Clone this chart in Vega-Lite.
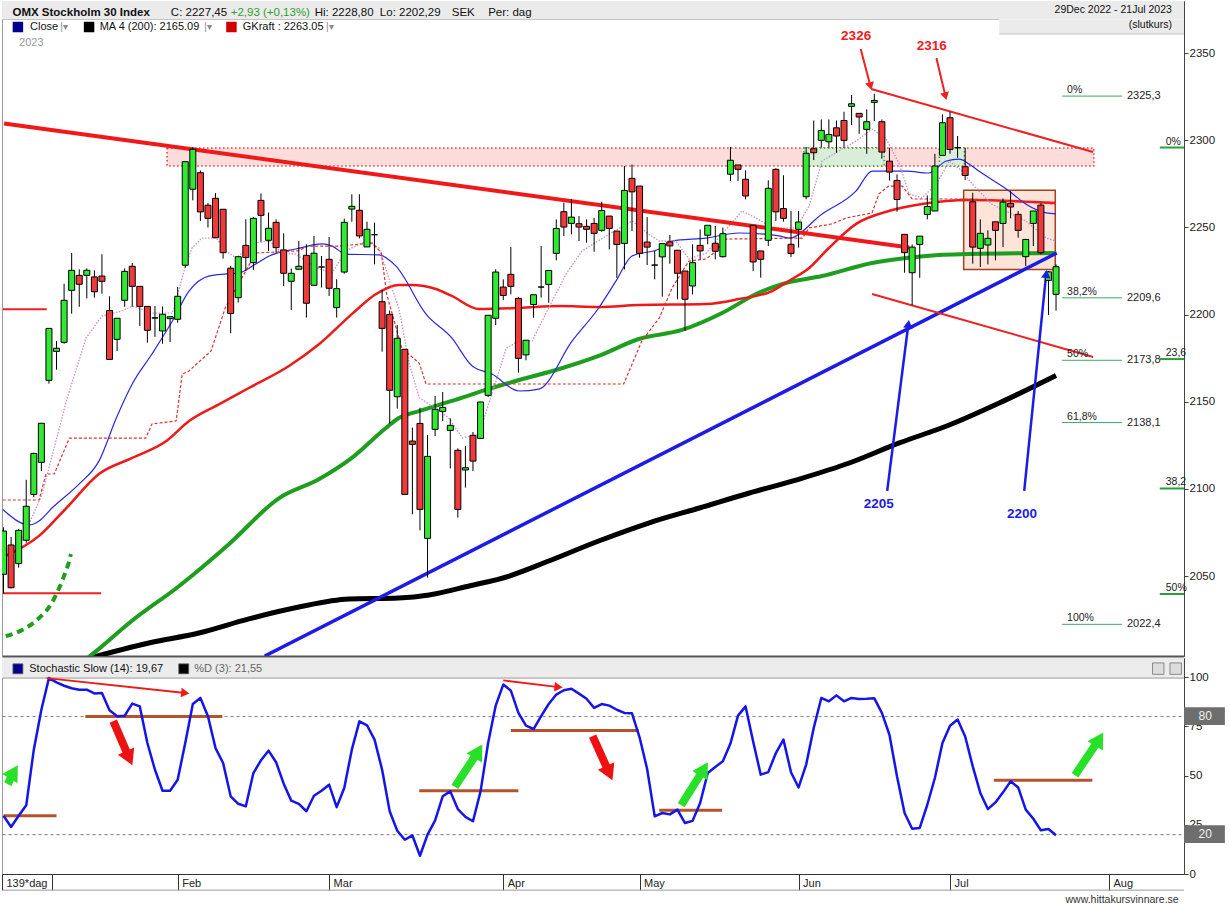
{
"$schema":"https://vega.github.io/schema/vega-lite/v6.json",
"padding":{"left":-2,"top":0,"right":0,"bottom":0},
"background":"#ffffff",
"bounds":"flush",
"spacing":2,
"config":{"font":"Liberation Sans","view":{"stroke":"#9a9a9a","strokeWidth":1}},
"resolve":{"scale":{"x":"independent","y":"independent"}},
"datasets":{
"candles":[
{"i":0,"o":2051.1,"h":2078,"l":2040,"c":2075.9},
{"i":1,"o":2067.9,"h":2072.5,"l":2043,"c":2043.4},
{"i":2,"o":2057.2,"h":2077,"l":2054.9,"c":2076.3},
{"i":3,"o":2070.6,"h":2105.3,"l":2069.2,"c":2090.1},
{"i":4,"o":2096.9,"h":2120.8,"l":2095.4,"c":2120.4},
{"i":5,"o":2115.3,"h":2137.7,"l":2110.3,"c":2137.7},
{"i":6,"o":2162.3,"h":2192.1,"l":2160.4,"c":2192.1},
{"i":7,"o":2178.9,"h":2184.9,"l":2168.4,"c":2180.7},
{"i":8,"o":2184.1,"h":2217.7,"l":2183.3,"c":2208.2},
{"i":9,"o":2213.9,"h":2235.3,"l":2200.5,"c":2225.4},
{"i":10,"o":2222.5,"h":2226,"l":2204.5,"c":2217.4},
{"i":11,"o":2222.5,"h":2226.5,"l":2209.3,"c":2225.4},
{"i":12,"o":2221.6,"h":2225.4,"l":2209.7,"c":2213.1},
{"i":13,"o":2222.1,"h":2234.6,"l":2212,"c":2219.1},
{"i":14,"o":2202.4,"h":2210.5,"l":2174.3,"c":2174.3},
{"i":15,"o":2185.8,"h":2197.9,"l":2179.1,"c":2197.9},
{"i":16,"o":2208.2,"h":2226.5,"l":2204.5,"c":2224.8},
{"i":17,"o":2227.7,"h":2229.6,"l":2204.5,"c":2216.2},
{"i":18,"o":2216.2,"h":2216.2,"l":2193.5,"c":2204.7},
{"i":19,"o":2204.7,"h":2204.7,"l":2183.9,"c":2191},
{"i":20,"o":2198,"h":2204.9,"l":2187.2,"c":2198.2},
{"i":21,"o":2190.6,"h":2204.7,"l":2183.3,"c":2200.2},
{"i":22,"o":2197.7,"h":2198.8,"l":2184.3,"c":2198.8},
{"i":23,"o":2197.3,"h":2215.8,"l":2195.4,"c":2210.5},
{"i":24,"o":2228.3,"h":2287.7,"l":2226.9,"c":2287.7},
{"i":25,"o":2271.9,"h":2296,"l":2265.5,"c":2294.8},
{"i":26,"o":2281.4,"h":2282.7,"l":2253.7,"c":2258.9},
{"i":27,"o":2262.7,"h":2264,"l":2249.9,"c":2255.2},
{"i":28,"o":2266.7,"h":2269.7,"l":2244.1,"c":2244.1},
{"i":29,"o":2260.4,"h":2260.4,"l":2232.1,"c":2235.5},
{"i":30,"o":2226.6,"h":2227.9,"l":2189.3,"c":2200.6},
{"i":31,"o":2209.7,"h":2233.2,"l":2206.9,"c":2233.2},
{"i":32,"o":2239.7,"h":2254.7,"l":2225,"c":2232.7},
{"i":33,"o":2229.8,"h":2256,"l":2225.6,"c":2255.2},
{"i":34,"o":2265.5,"h":2269.4,"l":2241.8,"c":2256.9},
{"i":35,"o":2242.6,"h":2258.5,"l":2236.5,"c":2249.5},
{"i":36,"o":2252.9,"h":2254.6,"l":2235.5,"c":2238.4},
{"i":37,"o":2237.1,"h":2246.6,"l":2216.4,"c":2223.7},
{"i":38,"o":2219.1,"h":2226.4,"l":2202.7,"c":2223.7},
{"i":39,"o":2226,"h":2242.2,"l":2226,"c":2227.7},
{"i":40,"o":2234,"h":2240.3,"l":2198.3,"c":2206.5},
{"i":41,"o":2216.8,"h":2245.1,"l":2216.8,"c":2235.2},
{"i":42,"o":2227.3,"h":2233.6,"l":2215.5,"c":2227.3},
{"i":43,"o":2231.7,"h":2244.5,"l":2210.7,"c":2215.1},
{"i":44,"o":2204,"h":2220.3,"l":2198.3,"c":2214.9},
{"i":45,"o":2224.4,"h":2255,"l":2223.5,"c":2252.9},
{"i":46,"o":2260.5,"h":2269,"l":2253.3,"c":2262.1},
{"i":47,"o":2259.8,"h":2269,"l":2243.7,"c":2245.1},
{"i":48,"o":2238.8,"h":2253.3,"l":2238.8,"c":2248.9},
{"i":49,"o":2245.8,"h":2252.7,"l":2228.8,"c":2245.8},
{"i":50,"o":2207.4,"h":2214.1,"l":2178.7,"c":2192.1},
{"i":51,"o":2200.1,"h":2202.4,"l":2137.5,"c":2156.6},
{"i":52,"o":2152.9,"h":2194,"l":2146.1,"c":2186.4},
{"i":53,"o":2180.1,"h":2180.1,"l":2096.9,"c":2096.9},
{"i":54,"o":2127.5,"h":2135.2,"l":2085.5,"c":2125.6},
{"i":55,"o":2137.6,"h":2146.6,"l":2076.3,"c":2088.3},
{"i":56,"o":2071.7,"h":2131,"l":2049.2,"c":2118.7},
{"i":57,"o":2134.2,"h":2153.3,"l":2130.4,"c":2145.7},
{"i":58,"o":2144.5,"h":2155.6,"l":2139,"c":2146.8},
{"i":59,"o":2133.6,"h":2140.5,"l":2111.8,"c":2136.5},
{"i":60,"o":2122.2,"h":2123.3,"l":2083.6,"c":2088.3},
{"i":61,"o":2110.9,"h":2124.6,"l":2100.8,"c":2112.2},
{"i":62,"o":2130.8,"h":2132.7,"l":2110.3,"c":2116},
{"i":63,"o":2129,"h":2150,"l":2129,"c":2149.9},
{"i":64,"o":2153.7,"h":2199.6,"l":2152.7,"c":2199.6},
{"i":65,"o":2197.9,"h":2226,"l":2194,"c":2224.4},
{"i":66,"o":2215.8,"h":2220.2,"l":2208.4,"c":2211},
{"i":67,"o":2223.1,"h":2238.8,"l":2211.6,"c":2216.2},
{"i":68,"o":2209.3,"h":2210,"l":2166.7,"c":2174.9},
{"i":69,"o":2176.9,"h":2185.3,"l":2173.8,"c":2185.3},
{"i":70,"o":2205.8,"h":2211.4,"l":2198.2,"c":2211.4},
{"i":71,"o":2215.8,"h":2239.3,"l":2209.7,"c":2215.8},
{"i":72,"o":2217.3,"h":2225.3,"l":2206.8,"c":2225.3},
{"i":73,"o":2235.1,"h":2254.6,"l":2231.1,"c":2249.4},
{"i":74,"o":2259,"h":2264.1,"l":2245,"c":2250.2},
{"i":75,"o":2252.3,"h":2266.1,"l":2246,"c":2255.9},
{"i":76,"o":2252.1,"h":2256.5,"l":2242.2,"c":2250.2},
{"i":77,"o":2250.6,"h":2254.6,"l":2241.2,"c":2248.9},
{"i":78,"o":2252.3,"h":2255.5,"l":2236,"c":2246.6},
{"i":79,"o":2248.3,"h":2264.7,"l":2247.5,"c":2259.7},
{"i":80,"o":2256.5,"h":2256.5,"l":2237.4,"c":2249.4},
{"i":81,"o":2247.9,"h":2247.9,"l":2221.1,"c":2240.2},
{"i":82,"o":2240.8,"h":2285.2,"l":2225.9,"c":2271.2},
{"i":83,"o":2278.1,"h":2286.1,"l":2247.9,"c":2270.4},
{"i":84,"o":2273.7,"h":2273.7,"l":2232.6,"c":2235.1},
{"i":85,"o":2241.6,"h":2255.9,"l":2228.4,"c":2238.7},
{"i":86,"o":2228.4,"h":2236.5,"l":2220.2,"c":2228.4},
{"i":87,"o":2233.1,"h":2240.7,"l":2210.3,"c":2240.7},
{"i":88,"o":2241.7,"h":2245.7,"l":2229.2,"c":2239.4},
{"i":89,"o":2236.9,"h":2236.9,"l":2208.8,"c":2223.7},
{"i":90,"o":2225,"h":2225,"l":2190.6,"c":2208.8},
{"i":91,"o":2216.4,"h":2240.3,"l":2211.6,"c":2229.8},
{"i":92,"o":2239.7,"h":2248.9,"l":2231.7,"c":2236.5},
{"i":93,"o":2245.5,"h":2251.2,"l":2240.3,"c":2251.2},
{"i":94,"o":2240.9,"h":2250.8,"l":2231.7,"c":2236.3},
{"i":95,"o":2233.2,"h":2249.9,"l":2232.7,"c":2246.4},
{"i":96,"o":2280.5,"h":2296.1,"l":2276.6,"c":2288.5},
{"i":97,"o":2285.8,"h":2285.8,"l":2276.6,"c":2283.3},
{"i":98,"o":2277.6,"h":2282.7,"l":2266.1,"c":2268},
{"i":99,"o":2251.2,"h":2251.2,"l":2225,"c":2230.2},
{"i":100,"o":2236.5,"h":2236.5,"l":2221.2,"c":2231.7},
{"i":101,"o":2242.6,"h":2277,"l":2239.4,"c":2272.4},
{"i":102,"o":2283.3,"h":2283.9,"l":2253.7,"c":2258.9},
{"i":103,"o":2260.8,"h":2279.9,"l":2253.3,"c":2255.2},
{"i":104,"o":2240.3,"h":2259.4,"l":2233.1,"c":2235},
{"i":105,"o":2248.9,"h":2259.4,"l":2238.4,"c":2253.1},
{"i":106,"o":2267.6,"h":2296.1,"l":2266.1,"c":2292.5},
{"i":107,"o":2295.1,"h":2311.3,"l":2288.6,"c":2292.8},
{"i":108,"o":2299.9,"h":2311.9,"l":2295.7,"c":2305.6},
{"i":109,"o":2299.1,"h":2311.9,"l":2295.7,"c":2303.3},
{"i":110,"o":2307.1,"h":2311.3,"l":2292.8,"c":2302.4},
{"i":111,"o":2311.3,"h":2316.3,"l":2295.7,"c":2299.9},
{"i":112,"o":2319.4,"h":2325.9,"l":2308.7,"c":2320.9},
{"i":113,"o":2315.4,"h":2315.4,"l":2303.7,"c":2313.3},
{"i":114,"o":2306.2,"h":2317.7,"l":2292.2,"c":2310.6},
{"i":115,"o":2321.7,"h":2326.6,"l":2311,"c":2322.8},
{"i":116,"o":2310.6,"h":2311.9,"l":2289.4,"c":2293.2},
{"i":117,"o":2288,"h":2295.7,"l":2276.9,"c":2281.7},
{"i":118,"o":2276.9,"h":2280.4,"l":2259,"c":2266},
{"i":119,"o":2246,"h":2246,"l":2224,"c":2235.5},
{"i":120,"o":2224,"h":2240.2,"l":2205.5,"c":2238.7},
{"i":121,"o":2240.2,"h":2245,"l":2221.1,"c":2245},
{"i":122,"o":2257.4,"h":2268.3,"l":2254.6,"c":2262},
{"i":123,"o":2259.4,"h":2292.2,"l":2259.4,"c":2285.2},
{"i":124,"o":2291.3,"h":2314.8,"l":2291.3,"c":2310},
{"i":125,"o":2312.9,"h":2316.3,"l":2292.2,"c":2294.7},
{"i":126,"o":2295.7,"h":2302.4,"l":2289.9,"c":2295.7},
{"i":127,"o":2284.8,"h":2295.7,"l":2277.1,"c":2279.8},
{"i":128,"o":2264.7,"h":2269.9,"l":2229.2,"c":2238.7},
{"i":129,"o":2238,"h":2254.6,"l":2227.3,"c":2246.6},
{"i":130,"o":2239.9,"h":2248.3,"l":2228.8,"c":2243.7},
{"i":131,"o":2253.2,"h":2253.2,"l":2231.1,"c":2248.3},
{"i":132,"o":2252.3,"h":2266.6,"l":2238.7,"c":2264.5},
{"i":133,"o":2263.8,"h":2270.8,"l":2255.2,"c":2261.7},
{"i":134,"o":2257.5,"h":2259.4,"l":2244.1,"c":2248.3},
{"i":135,"o":2233.2,"h":2243.1,"l":2227.8,"c":2243.1},
{"i":136,"o":2252.3,"h":2259.4,"l":2239.3,"c":2259.4},
{"i":137,"o":2262.8,"h":2263.8,"l":2234.5,"c":2235.5},
{"i":138,"o":2219.6,"h":2225,"l":2199.7,"c":2224.52},
{"i":139,"o":2211.6,"h":2228.8,"l":2202.29,"c":2227.45}
],
"ma200":[{"i":10,"v":2001.4},{"i":19.2,"v":2011.7},{"i":25.8,"v":2017.4},{"i":32.4,"v":2025.5},{"i":39,"v":2032.3},{"i":45.6,"v":2036.9},{"i":52.2,"v":2037.5},{"i":56.2,"v":2039.2},{"i":61.5,"v":2044.4},{"i":66.8,"v":2050.1},{"i":72,"v":2058.7},{"i":78.6,"v":2070.2},{"i":85.2,"v":2080.5},{"i":91.9,"v":2089.1},{"i":98.5,"v":2097.7},{"i":105.1,"v":2105.7},{"i":111.7,"v":2114.9},{"i":118.3,"v":2126.4},{"i":124.9,"v":2136.7},{"i":131.5,"v":2149.3},{"i":139,"v":2165.1}],
"ma50":[{"i":10.6,"v":2001.4},{"i":12.6,"v":2008.3},{"i":16.6,"v":2023.2},{"i":23.2,"v":2044.4},{"i":29.8,"v":2068.5},{"i":36.4,"v":2094.8},{"i":41.7,"v":2105.7},{"i":46,"v":2117.8},{"i":50.5,"v":2135},{"i":52.2,"v":2140.7},{"i":54.9,"v":2144.7},{"i":59.2,"v":2150.5},{"i":63.7,"v":2156.8},{"i":68.1,"v":2162.5},{"i":73.4,"v":2168.8},{"i":78.6,"v":2176.3},{"i":83.9,"v":2186},{"i":89.6,"v":2191.2},{"i":94.9,"v":2200.9},{"i":99.4,"v":2211.8},{"i":102.8,"v":2217.5},{"i":108.1,"v":2222.1},{"i":114.7,"v":2229.6},{"i":119.2,"v":2232.5},{"i":123.5,"v":2234.2},{"i":127.5,"v":2234.7},{"i":139,"v":2235.3}],
"gk":[{"i":-0.03,"v":2061},{"i":4.7,"v":2073.1},{"i":8.3,"v":2089.1},{"i":12.6,"v":2108.6},{"i":17,"v":2117.8},{"i":21.5,"v":2127.5},{"i":24.5,"v":2139},{"i":28.5,"v":2148.7},{"i":32.4,"v":2157.9},{"i":37.7,"v":2170.5},{"i":41.7,"v":2183.1},{"i":46,"v":2200.3},{"i":49.2,"v":2211.8},{"i":52.2,"v":2217},{"i":53.9,"v":2217},{"i":57.1,"v":2214.7},{"i":59.2,"v":2210.7},{"i":62.8,"v":2203.2},{"i":68.1,"v":2203.8},{"i":73.4,"v":2204.9},{"i":78.6,"v":2204.4},{"i":83.9,"v":2205.5},{"i":92.8,"v":2206.1},{"i":97.1,"v":2208.9},{"i":101.5,"v":2213.5},{"i":103.7,"v":2219.3},{"i":106.4,"v":2226.7},{"i":109,"v":2238.2},{"i":112.6,"v":2252},{"i":116.9,"v":2259.4},{"i":121.3,"v":2263.4},{"i":127.5,"v":2265.7},{"i":139,"v":2264}],
"mab":[{"i":-0.1,"v":2088.2},{"i":3.4,"v":2079.4},{"i":4.7,"v":2081.7},{"i":6.4,"v":2089.1},{"i":10,"v":2102.9},{"i":12.6,"v":2116},{"i":14.9,"v":2140.7},{"i":17,"v":2160.2},{"i":19.6,"v":2177.4},{"i":22.3,"v":2196.3},{"i":24.5,"v":2213.5},{"i":27.1,"v":2222.1},{"i":29.4,"v":2223.3},{"i":31.1,"v":2223.9},{"i":33.3,"v":2229},{"i":35.1,"v":2233.6},{"i":38.6,"v":2237.6},{"i":42.1,"v":2240.5},{"i":43.4,"v":2239.3},{"i":45.2,"v":2234.7},{"i":49.6,"v":2234.2},{"i":51.8,"v":2227.9},{"i":55.8,"v":2200.3},{"i":59.2,"v":2186.6},{"i":61.9,"v":2170.5},{"i":64.5,"v":2165.9},{"i":68.1,"v":2156.2},{"i":70.7,"v":2157.3},{"i":75.1,"v":2184.9},{"i":78.6,"v":2203.8},{"i":80.9,"v":2219.3},{"i":83,"v":2233.6},{"i":86.6,"v":2237.6},{"i":88.3,"v":2242.2},{"i":92.8,"v":2243.9},{"i":97.1,"v":2246.8},{"i":102.4,"v":2245.1},{"i":103.7,"v":2243.9},{"i":108.1,"v":2257.7},{"i":112.6,"v":2270.9},{"i":114.7,"v":2282.3},{"i":119.2,"v":2282.3},{"i":122.2,"v":2281.2},{"i":124.5,"v":2288.1},{"i":126.2,"v":2289.2},{"i":127.5,"v":2286.4},{"i":128.8,"v":2282.3},{"i":132.8,"v":2270.9},{"i":135,"v":2263.4},{"i":137.7,"v":2258.3},{"i":139,"v":2257.7}],
"map":[{"i":2.4,"v":2070.2},{"i":5.1,"v":2097.1},{"i":8.3,"v":2150.5},{"i":10.9,"v":2186.6},{"i":13,"v":2199.2},{"i":15.6,"v":2202.1},{"i":17,"v":2204.9},{"i":19.6,"v":2200.9},{"i":22.3,"v":2200.9},{"i":24.1,"v":2229},{"i":24.9,"v":2238.2},{"i":26.2,"v":2243.9},{"i":28.1,"v":2243.9},{"i":29.4,"v":2236.5},{"i":30.7,"v":2232.5},{"i":33.3,"v":2241.1},{"i":35.1,"v":2242.2},{"i":36.8,"v":2235.3},{"i":38.6,"v":2234.7},{"i":41.3,"v":2226.7},{"i":43.4,"v":2223.9},{"i":45.2,"v":2236.5},{"i":47.9,"v":2242.2},{"i":49.6,"v":2238.2},{"i":51.3,"v":2215.3},{"i":52.2,"v":2203.8},{"i":53.6,"v":2171.7},{"i":54.9,"v":2152.2},{"i":57.1,"v":2146.4},{"i":58.8,"v":2140.7},{"i":60.6,"v":2129.2},{"i":62.8,"v":2131.5},{"i":64.5,"v":2154.5},{"i":66.4,"v":2180.8},{"i":68.1,"v":2184.9},{"i":69.8,"v":2184.9},{"i":72,"v":2203.8},{"i":74.3,"v":2223.3},{"i":76.4,"v":2236.5},{"i":79.6,"v":2245.1},{"i":83,"v":2253.7},{"i":85.2,"v":2246.2},{"i":86.6,"v":2242.2},{"i":88.8,"v":2242.2},{"i":90.5,"v":2231.9},{"i":92.8,"v":2235.3},{"i":94.9,"v":2246.2},{"i":97.5,"v":2259.4},{"i":99.4,"v":2255.4},{"i":101.5,"v":2249.7},{"i":104.7,"v":2249.7},{"i":106.4,"v":2262.3},{"i":108.1,"v":2288.1},{"i":110.3,"v":2293.8},{"i":112.6,"v":2299.5},{"i":114.7,"v":2306.4},{"i":116.5,"v":2301.3},{"i":118.3,"v":2286.4},{"i":119.6,"v":2269.2},{"i":121.3,"v":2266.9},{"i":123.2,"v":2274.9},{"i":124.9,"v":2288.1},{"i":126.6,"v":2282.3},{"i":127.9,"v":2274.9},{"i":130.5,"v":2263.4},{"i":135,"v":2253.7},{"i":137.7,"v":2243.9},{"i":139,"v":2242.2}],
"stepred":[{"i":-0.1,"v":2093.7},{"i":4.7,"v":2093.7},{"i":5.6,"v":2108.6},{"i":6.7,"v":2108.6},{"i":8.7,"v":2129.2},{"i":18.8,"v":2129.2},{"i":19.6,"v":2137.3},{"i":22.8,"v":2139},{"i":23.6,"v":2165.9},{"i":24.5,"v":2167.7},{"i":27.4,"v":2179.1},{"i":29.3,"v":2204},{"i":33.3,"v":2235.3},{"i":38.8,"v":2236.5},{"i":40.3,"v":2239.3},{"i":44.3,"v":2239.3},{"i":48.7,"v":2241.1},{"i":49.9,"v":2235.3},{"i":50.6,"v":2211.8},{"i":52.6,"v":2180.8},{"i":54.9,"v":2172.2},{"i":55.8,"v":2160.2},{"i":81.9,"v":2160.2},{"i":84.3,"v":2184.9},{"i":86.6,"v":2198},{"i":88.3,"v":2215.3},{"i":90.5,"v":2230.7},{"i":92.8,"v":2231.9},{"i":94.1,"v":2236.5},{"i":95.4,"v":2243.3},{"i":105.5,"v":2243.9},{"i":106.4,"v":2249.7},{"i":109.4,"v":2252},{"i":111.3,"v":2255.4},{"i":114.7,"v":2258.3},{"i":115.6,"v":2269.2},{"i":116.9,"v":2273.7},{"i":118.7,"v":2273.7},{"i":120,"v":2266.3},{"i":127.5,"v":2266.3},{"i":139,"v":2263.4}],
"arc":[{"i":0.3,"v":2015.6},{"i":2.7,"v":2019.7},{"i":4.7,"v":2026},{"i":6.3,"v":2034.1},{"i":7.3,"v":2042.7},{"i":8.1,"v":2051.3},{"i":8.6,"v":2057.6},{"i":8.9,"v":2062.7}],
"stoch":[{"i":0,"v":29.6},{"i":1,"v":23.9},{"i":2,"v":29.6},{"i":3,"v":34.9},{"i":4,"v":63.2},{"i":5,"v":83.5},{"i":6,"v":99.6},{"i":7,"v":97.4},{"i":8,"v":95.7},{"i":9,"v":94.4},{"i":10,"v":93.7},{"i":11,"v":93.7},{"i":12,"v":91.8},{"i":13,"v":92},{"i":14,"v":83.2},{"i":15,"v":80.2},{"i":16,"v":80.5},{"i":17,"v":86.6},{"i":18,"v":85.2},{"i":19,"v":66.6},{"i":20,"v":53},{"i":21,"v":42.3},{"i":22,"v":42.3},{"i":23,"v":47.9},{"i":24,"v":66.6},{"i":25,"v":86.4},{"i":26,"v":89.5},{"i":27,"v":80.2},{"i":28,"v":64},{"i":29,"v":56.4},{"i":30,"v":39.5},{"i":31,"v":35.7},{"i":32,"v":34.4},{"i":33,"v":51.3},{"i":34,"v":57.8},{"i":35,"v":62.7},{"i":36,"v":56.8},{"i":37,"v":45.9},{"i":38,"v":37.3},{"i":39,"v":35.6},{"i":40,"v":31.9},{"i":41,"v":39.8},{"i":42,"v":42.3},{"i":43,"v":45.4},{"i":44,"v":34},{"i":45,"v":43.7},{"i":46,"v":63.2},{"i":47,"v":77.6},{"i":48,"v":75.6},{"i":49,"v":68.3},{"i":50,"v":53},{"i":51,"v":31.9},{"i":52,"v":22},{"i":53,"v":17.4},{"i":54,"v":19.6},{"i":55,"v":9.3},{"i":56,"v":20},{"i":57,"v":27.3},{"i":58,"v":39.5},{"i":59,"v":42},{"i":60,"v":33},{"i":61,"v":29},{"i":62,"v":26.8},{"i":63,"v":42},{"i":64,"v":66.6},{"i":65,"v":85.6},{"i":66,"v":96.3},{"i":67,"v":93.2},{"i":68,"v":81.9},{"i":69,"v":75.4},{"i":70,"v":73.7},{"i":71,"v":80.2},{"i":72,"v":86.4},{"i":73,"v":91.2},{"i":74,"v":93.4},{"i":75,"v":94.2},{"i":76,"v":91.7},{"i":77,"v":89.1},{"i":78,"v":84.4},{"i":79,"v":86.4},{"i":80,"v":85.6},{"i":81,"v":83.5},{"i":82,"v":81.9},{"i":83,"v":81.7},{"i":84,"v":69.5},{"i":85,"v":53.4},{"i":86,"v":29.3},{"i":87,"v":31},{"i":88,"v":30.3},{"i":89,"v":32.7},{"i":90,"v":25.9},{"i":91,"v":27},{"i":92,"v":36.1},{"i":93,"v":51.3},{"i":94,"v":54.4},{"i":95,"v":57.3},{"i":96,"v":66.3},{"i":97,"v":80.5},{"i":98,"v":85.2},{"i":99,"v":67.4},{"i":100,"v":50.5},{"i":101,"v":51.8},{"i":102,"v":61.5},{"i":103,"v":68.3},{"i":104,"v":51.7},{"i":105,"v":44},{"i":106,"v":55.6},{"i":107,"v":74.2},{"i":108,"v":89.5},{"i":109,"v":87.8},{"i":110,"v":90.8},{"i":111,"v":87.8},{"i":112,"v":89.5},{"i":113,"v":89},{"i":114,"v":89.1},{"i":115,"v":89.3},{"i":116,"v":81.9},{"i":117,"v":70.8},{"i":118,"v":49.6},{"i":119,"v":31},{"i":120,"v":23},{"i":121,"v":23.4},{"i":122,"v":35.2},{"i":123,"v":48.8},{"i":124,"v":66.6},{"i":125,"v":75.4},{"i":126,"v":78.5},{"i":127,"v":69.9},{"i":128,"v":54.7},{"i":129,"v":41.2},{"i":130,"v":33},{"i":131,"v":36.4},{"i":132,"v":41.5},{"i":133,"v":47.1},{"i":134,"v":44},{"i":135,"v":32.7},{"i":136,"v":28.1},{"i":137,"v":22.2},{"i":138,"v":22.9},{"i":139,"v":19.67}],
"fib":[{"i":139.8,"i2":147.7,"v":2325.3,"p":"0%","t":"2325,3"},{"i":139.8,"i2":147.7,"v":2209.6,"p":"38,2%","t":"2209,6"},{"i":139.8,"i2":147.7,"v":2173.8,"p":"50%","t":"2173,8"},{"i":139.8,"i2":147.7,"v":2138.1,"p":"61,8%","t":"2138,1"},{"i":139.8,"i2":147.7,"v":2022.4,"p":"100%","t":"2022,4"}],
"fibr":[{"i":152.7,"i2":155.9,"v":2295.8,"t":"0%"},{"i":152.7,"i2":155.9,"v":2174.5,"t":"23,6"},{"i":152.7,"i2":155.9,"v":2100.3,"t":"38,2"},{"i":152.7,"i2":155.9,"v":2039.8,"t":"50%"}]
},
"vconcat":[
{
"width":1182,"height":655,
"layer":[
{"data":{"values":[{"i":-0.2,"i2":155.9,"v":2379.82,"v2":2369.2},{"i":131.5,"i2":155.9,"v":2369.2,"v2":2360.9}]},
 "mark":{"type":"rect","fill":"#ebebeb","strokeWidth":0},
 "encoding":{
  "x":{"field":"i","type":"quantitative","scale":{"domain":[-0.2,155.9],"nice":false,"zero":false,"padding":0},"axis":{"orient":"bottom","domain":true,"domainColor":"#555555","domainWidth":2,"ticks":false,"labels":false,"grid":false,"title":null}},
  "x2":{"field":"i2"},
  "y":{"field":"v","type":"quantitative","scale":{"domain":[2004.24,2379.82],"nice":false,"zero":false},"axis":{"orient":"right","values":[2050,2100,2150,2200,2250,2300,2350],"format":"d","tickSize":4,"tickColor":"#444444","domainColor":"#444444","labelPadding":1,"labelFontSize":11.5,"labelColor":"#222222","grid":false,"title":null}},
  "y2":{"field":"v2"}}},
{"data":{"values":[{"i":-0.596,"i2":-0.2,"v":2004.24,"v2":2012}]},
 "mark":{"type":"rect","fill":"#ffffff","strokeWidth":0},
 "encoding":{"x":{"field":"i","type":"quantitative","scale":{"domain":[-0.2,155.9],"nice":false,"zero":false,"padding":0}},"x2":{"field":"i2"},"y":{"field":"v","type":"quantitative","scale":{"domain":[2004.24,2379.82],"nice":false,"zero":false}},"y2":{"field":"v2"}}},
{"data":{"values":[{"i":-0.13,"i2":131.5,"v":2369.2},{"i":131.5,"i2":155.9,"v":2360.9}]},
 "mark":{"type":"rule","color":"#c4c4c4","strokeWidth":1},
 "encoding":{"x":{"field":"i","type":"quantitative","scale":{"domain":[-0.2,155.9],"nice":false,"zero":false,"padding":0}},"x2":{"field":"i2"},"y":{"field":"v","type":"quantitative","scale":{"domain":[2004.24,2379.82],"nice":false,"zero":false}}}},
{"data":{"values":[{"i":21.6,"i2":144.0,"v":2295.5,"v2":2285.2}]},
 "mark":{"type":"rect","fill":"#fddcdc","stroke":"#e23a3a","strokeWidth":1.5,"strokeDash":[1.5,2.5]},
 "encoding":{"x":{"field":"i","type":"quantitative","scale":{"domain":[-0.2,155.9],"nice":false,"zero":false,"padding":0}},"x2":{"field":"i2"},"y":{"field":"v","type":"quantitative","scale":{"domain":[2004.24,2379.82],"nice":false,"zero":false}},"y2":{"field":"v2"}}},
{"data":{"values":[{"i":105.7,"i2":116.3,"v":2295.5,"v2":2285.2},{"i":123.6,"i2":126.9,"v":2295.5,"v2":2285.2}]},
 "mark":{"type":"rect","fill":"#d9eed9","stroke":"#2f9f2f","strokeWidth":1.5,"strokeDash":[1.5,2.5]},
 "encoding":{"x":{"field":"i","type":"quantitative","scale":{"domain":[-0.2,155.9],"nice":false,"zero":false,"padding":0}},"x2":{"field":"i2"},"y":{"field":"v","type":"quantitative","scale":{"domain":[2004.24,2379.82],"nice":false,"zero":false}},"y2":{"field":"v2"}}},
{"data":{"values":[{"i":126.8,"i2":138.9,"v":2271.3,"v2":2225.8}]},
 "mark":{"type":"rect","fill":"#fde3d8","stroke":"#a3401e","strokeWidth":1.5},
 "encoding":{"x":{"field":"i","type":"quantitative","scale":{"domain":[-0.2,155.9],"nice":false,"zero":false,"padding":0}},"x2":{"field":"i2"},"y":{"field":"v","type":"quantitative","scale":{"domain":[2004.24,2379.82],"nice":false,"zero":false}},"y2":{"field":"v2"}}},
{"data":{"name":"ma200"},"mark":{"type":"line","color":"#000000","strokeWidth":5,"strokeJoin":"round","interpolate":"monotone","clip":true},
 "encoding":{"x":{"field":"i","type":"quantitative","scale":{"domain":[-0.2,155.9],"nice":false,"zero":false,"padding":0}},"y":{"field":"v","type":"quantitative","scale":{"domain":[2004.24,2379.82],"nice":false,"zero":false}}}},
{"data":{"name":"ma50"},"mark":{"type":"line","color":"#1e9e1e","strokeWidth":4,"strokeJoin":"round","interpolate":"monotone","clip":true},
 "encoding":{"x":{"field":"i","type":"quantitative","scale":{"domain":[-0.2,155.9],"nice":false,"zero":false,"padding":0}},"y":{"field":"v","type":"quantitative","scale":{"domain":[2004.24,2379.82],"nice":false,"zero":false}}}},
{"data":{"name":"gk"},"mark":{"type":"line","color":"#ee1a1a","strokeWidth":2.5,"strokeJoin":"round","interpolate":"monotone","clip":true},
 "encoding":{"x":{"field":"i","type":"quantitative","scale":{"domain":[-0.2,155.9],"nice":false,"zero":false,"padding":0}},"y":{"field":"v","type":"quantitative","scale":{"domain":[2004.24,2379.82],"nice":false,"zero":false}}}},
{"data":{"name":"mab"},"mark":{"type":"line","color":"#2828e0","strokeWidth":1.2,"strokeJoin":"round","interpolate":"monotone","clip":true},
 "encoding":{"x":{"field":"i","type":"quantitative","scale":{"domain":[-0.2,155.9],"nice":false,"zero":false,"padding":0}},"y":{"field":"v","type":"quantitative","scale":{"domain":[2004.24,2379.82],"nice":false,"zero":false}}}},
{"data":{"name":"map"},"mark":{"type":"line","color":"#c890c8","strokeWidth":1.3,"strokeJoin":"round","strokeDash":[1.5,1.5],"clip":true},
 "encoding":{"x":{"field":"i","type":"quantitative","scale":{"domain":[-0.2,155.9],"nice":false,"zero":false,"padding":0}},"y":{"field":"v","type":"quantitative","scale":{"domain":[2004.24,2379.82],"nice":false,"zero":false}}}},
{"data":{"name":"stepred"},"mark":{"type":"line","color":"#dd3030","strokeWidth":1.2,"strokeJoin":"round","strokeDash":[3,2],"clip":true},
 "encoding":{"x":{"field":"i","type":"quantitative","scale":{"domain":[-0.2,155.9],"nice":false,"zero":false,"padding":0}},"y":{"field":"v","type":"quantitative","scale":{"domain":[2004.24,2379.82],"nice":false,"zero":false}}}},
{"data":{"values":[{"i":0.07,"v":2309.6,"i2":119.6,"v2":2238.5}]},
 "mark":{"type":"rule","color":"#f01818","strokeWidth":4,"clip":true},
 "encoding":{"x":{"field":"i","type":"quantitative","scale":{"domain":[-0.2,155.9],"nice":false,"zero":false,"padding":0}},"x2":{"field":"i2"},"y":{"field":"v","type":"quantitative","scale":{"domain":[2004.24,2379.82],"nice":false,"zero":false}},"y2":{"field":"v2"}}},
{"data":{"values":[{"i":34.5,"v":2004.24,"i2":139.1,"v2":2235.3}]},
 "mark":{"type":"rule","color":"#1c1ce6","strokeWidth":3.5,"clip":true},
 "encoding":{"x":{"field":"i","type":"quantitative","scale":{"domain":[-0.2,155.9],"nice":false,"zero":false,"padding":0}},"x2":{"field":"i2"},"y":{"field":"v","type":"quantitative","scale":{"domain":[2004.24,2379.82],"nice":false,"zero":false}},"y2":{"field":"v2"}}},
{"data":{"values":[{"i":114.6,"v":2329.4,"i2":143.9,"v2":2293.2},{"i":114.7,"v":2211.8,"i2":143.9,"v2":2175.7},{"i":-0.07,"v":2203,"i2":5.7,"v2":2203},{"i":-0.07,"v":2040.2,"i2":12.9,"v2":2040.2},{"i":113.2,"v":2352.3,"i2":114.5,"v2":2331},{"i":123.2,"v":2347.1,"i2":124.4,"v2":2325.2}]},
 "mark":{"type":"rule","color":"#ee2020","strokeWidth":2,"clip":true},
 "encoding":{"x":{"field":"i","type":"quantitative","scale":{"domain":[-0.2,155.9],"nice":false,"zero":false,"padding":0}},"x2":{"field":"i2"},"y":{"field":"v","type":"quantitative","scale":{"domain":[2004.24,2379.82],"nice":false,"zero":false}},"y2":{"field":"v2"}}},
{"data":{"values":[{"i":116.7,"v":2098.9,"i2":119.5,"v2":2194.6},{"i":134.8,"v":2098.9,"i2":137.7,"v2":2223.3}]},
 "mark":{"type":"rule","color":"#1c1ce6","strokeWidth":2.5},
 "encoding":{"x":{"field":"i","type":"quantitative","scale":{"domain":[-0.2,155.9],"nice":false,"zero":false,"padding":0}},"x2":{"field":"i2"},"y":{"field":"v","type":"quantitative","scale":{"domain":[2004.24,2379.82],"nice":false,"zero":false}},"y2":{"field":"v2"}}},
{"data":{"name":"arc"},"mark":{"type":"line","color":"#1e9e1e","strokeWidth":4,"strokeJoin":"round","strokeDash":[7,5],"interpolate":"monotone","clip":true},
 "encoding":{"x":{"field":"i","type":"quantitative","scale":{"domain":[-0.2,155.9],"nice":false,"zero":false,"padding":0}},"y":{"field":"v","type":"quantitative","scale":{"domain":[2004.24,2379.82],"nice":false,"zero":false}}}},
{"data":{"name":"candles"},"mark":{"type":"rule","color":"#000000","strokeWidth":1,"clip":true},
 "encoding":{"x":{"field":"i","type":"quantitative","scale":{"domain":[-0.2,155.9],"nice":false,"zero":false,"padding":0}},"y":{"field":"l","type":"quantitative","scale":{"domain":[2004.24,2379.82],"nice":false,"zero":false}},"y2":{"field":"h"}}},
{"data":{"name":"candles"},"mark":{"type":"bar","width":6,"stroke":"#000000","strokeWidth":1,"clip":true},
 "encoding":{"x":{"field":"i","type":"quantitative","scale":{"domain":[-0.2,155.9],"nice":false,"zero":false,"padding":0}},"y":{"field":"o","type":"quantitative","scale":{"domain":[2004.24,2379.82],"nice":false,"zero":false}},"y2":{"field":"c"},
  "fill":{"condition":{"test":"datum.c >= datum.o","value":"#33e833"},"value":"#f03a3a"}}},
{"data":{"name":"fib"},"mark":{"type":"rule","color":"#3aaa6a","strokeWidth":1},
 "encoding":{"x":{"field":"i","type":"quantitative","scale":{"domain":[-0.2,155.9],"nice":false,"zero":false,"padding":0}},"x2":{"field":"i2"},"y":{"field":"v","type":"quantitative","scale":{"domain":[2004.24,2379.82],"nice":false,"zero":false}}}},
{"data":{"name":"fib"},"mark":{"type":"text","align":"left","baseline":"bottom","dx":5,"dy":-1,"fontSize":10.5,"color":"#222222"},
 "encoding":{"x":{"field":"i","type":"quantitative","scale":{"domain":[-0.2,155.9],"nice":false,"zero":false,"padding":0}},"y":{"field":"v","type":"quantitative","scale":{"domain":[2004.24,2379.82],"nice":false,"zero":false}},"text":{"field":"p"}}},
{"data":{"name":"fib"},"mark":{"type":"text","align":"left","baseline":"middle","dx":5,"fontSize":11,"color":"#222222"},
 "encoding":{"x":{"field":"i2","type":"quantitative","scale":{"domain":[-0.2,155.9],"nice":false,"zero":false,"padding":0}},"y":{"field":"v","type":"quantitative","scale":{"domain":[2004.24,2379.82],"nice":false,"zero":false}},"text":{"field":"t"}}},
{"data":{"name":"fibr"},"mark":{"type":"rule","color":"#2c9c3c","strokeWidth":2},
 "encoding":{"x":{"field":"i","type":"quantitative","scale":{"domain":[-0.2,155.9],"nice":false,"zero":false,"padding":0}},"x2":{"field":"i2"},"y":{"field":"v","type":"quantitative","scale":{"domain":[2004.24,2379.82],"nice":false,"zero":false}}}},
{"data":{"name":"fibr"},"mark":{"type":"text","align":"left","baseline":"bottom","dx":6,"dy":-1,"fontSize":10.5,"color":"#222222"},
 "encoding":{"x":{"field":"i","type":"quantitative","scale":{"domain":[-0.2,155.9],"nice":false,"zero":false,"padding":0}},"y":{"field":"v","type":"quantitative","scale":{"domain":[2004.24,2379.82],"nice":false,"zero":false}},"text":{"field":"t"}}},
{"data":{"values":[{"i":114.5,"v":2331},{"i":124.4,"v":2325.2}]},
 "mark":{"type":"point","shape":"triangle-up","angle":165,"size":80,"filled":true,"color":"#ee2020","opacity":1},
 "encoding":{"x":{"field":"i","type":"quantitative","scale":{"domain":[-0.2,155.9],"nice":false,"zero":false,"padding":0}},"y":{"field":"v","type":"quantitative","scale":{"domain":[2004.24,2379.82],"nice":false,"zero":false}}}},
{"data":{"values":[{"i":119.5,"v":2194.6},{"i":137.7,"v":2223.3}]},
 "mark":{"type":"point","shape":"triangle-up","angle":7,"size":90,"filled":true,"color":"#1c1ce6","opacity":1},
 "encoding":{"x":{"field":"i","type":"quantitative","scale":{"domain":[-0.2,155.9],"nice":false,"zero":false,"padding":0}},"y":{"field":"v","type":"quantitative","scale":{"domain":[2004.24,2379.82],"nice":false,"zero":false}}}},
{"data":{"values":[{"i":112.6,"v":2359.7,"t":"2326"},{"i":122.6,"v":2354,"t":"2316"}]},
 "mark":{"type":"text","align":"center","baseline":"middle","fontSize":13.5,"fontWeight":"bold","color":"#ee2020"},
 "encoding":{"x":{"field":"i","type":"quantitative","scale":{"domain":[-0.2,155.9],"nice":false,"zero":false,"padding":0}},"y":{"field":"v","type":"quantitative","scale":{"domain":[2004.24,2379.82],"nice":false,"zero":false}},"text":{"field":"t"}}},
{"data":{"values":[{"i":115.6,"v":2091.4,"t":"2205"},{"i":134.5,"v":2085.7,"t":"2200"}]},
 "mark":{"type":"text","align":"center","baseline":"middle","fontSize":13.5,"fontWeight":"bold","color":"#1c1ce6"},
 "encoding":{"x":{"field":"i","type":"quantitative","scale":{"domain":[-0.2,155.9],"nice":false,"zero":false,"padding":0}},"y":{"field":"v","type":"quantitative","scale":{"domain":[2004.24,2379.82],"nice":false,"zero":false}},"text":{"field":"t"}}},
{"data":{"values":[{"i":1.18,"v":2373.1,"t":"OMX Stockholm 30 Index"}]},
 "mark":{"type":"text","align":"left","baseline":"middle","fontSize":11.5,"fontWeight":"bold","color":"#111111"},
 "encoding":{"x":{"field":"i","type":"quantitative","scale":{"domain":[-0.2,155.9],"nice":false,"zero":false,"padding":0}},"y":{"field":"v","type":"quantitative","scale":{"domain":[2004.24,2379.82],"nice":false,"zero":false}},"text":{"field":"t"}}},
{"data":{"values":[{"i":22.1,"v":2373.1,"t":"C: 2227,45"},{"i":41.1,"v":2373.1,"t":"Hi: 2228,80"},{"i":49.7,"v":2373.1,"t":"Lo: 2202,29"},{"i":59.2,"v":2373.1,"t":"SEK"},{"i":64.0,"v":2373.1,"t":"Per: dag"}]},
 "mark":{"type":"text","align":"left","baseline":"middle","fontSize":11.5,"color":"#111111"},
 "encoding":{"x":{"field":"i","type":"quantitative","scale":{"domain":[-0.2,155.9],"nice":false,"zero":false,"padding":0}},"y":{"field":"v","type":"quantitative","scale":{"domain":[2004.24,2379.82],"nice":false,"zero":false}},"text":{"field":"t"}}},
{"data":{"values":[{"i":30.0,"v":2373.1,"t":"+2,93 (+0,13%)"}]},
 "mark":{"type":"text","align":"left","baseline":"middle","fontSize":11.5,"color":"#2ea02e"},
 "encoding":{"x":{"field":"i","type":"quantitative","scale":{"domain":[-0.2,155.9],"nice":false,"zero":false,"padding":0}},"y":{"field":"v","type":"quantitative","scale":{"domain":[2004.24,2379.82],"nice":false,"zero":false}},"text":{"field":"t"}}},
{"data":{"values":[{"i":1.9,"v":2364.9,"k":"Close"},{"i":11.3,"v":2364.9,"k":"MA"},{"i":30.1,"v":2364.9,"k":"GKraft"}]},
 "mark":{"type":"point","shape":"square","size":110,"filled":true,"opacity":1},
 "encoding":{"x":{"field":"i","type":"quantitative","scale":{"domain":[-0.2,155.9],"nice":false,"zero":false,"padding":0}},"y":{"field":"v","type":"quantitative","scale":{"domain":[2004.24,2379.82],"nice":false,"zero":false}},
  "color":{"field":"k","type":"nominal","scale":{"domain":["Close","MA","GKraft"],"range":["#00008c","#000000","#d40000"]},"legend":null}}},
{"data":{"values":[{"i":3.5,"v":2364.9,"t":"Close"},{"i":12.7,"v":2364.9,"t":"MA 4 (200): 2165.09"},{"i":31.6,"v":2364.9,"t":"GKraft : 2263.05"}]},
 "mark":{"type":"text","align":"left","baseline":"middle","fontSize":11,"color":"#111111"},
 "encoding":{"x":{"field":"i","type":"quantitative","scale":{"domain":[-0.2,155.9],"nice":false,"zero":false,"padding":0}},"y":{"field":"v","type":"quantitative","scale":{"domain":[2004.24,2379.82],"nice":false,"zero":false}},"text":{"field":"t"}}},
{"data":{"values":[{"i":7.5,"v":2364.9,"t":"|▾"},{"i":26.5,"v":2364.9,"t":"|▾"},{"i":42.6,"v":2364.9,"t":"|▾"}]},
 "mark":{"type":"text","align":"left","baseline":"middle","fontSize":10,"color":"#8a8a8a"},
 "encoding":{"x":{"field":"i","type":"quantitative","scale":{"domain":[-0.2,155.9],"nice":false,"zero":false,"padding":0}},"y":{"field":"v","type":"quantitative","scale":{"domain":[2004.24,2379.82],"nice":false,"zero":false}},"text":{"field":"t"}}},
{"data":{"values":[{"i":2.05,"v":2355.7,"t":"2023"}]},
 "mark":{"type":"text","align":"left","baseline":"middle","fontSize":11,"color":"#9a9a9a"},
 "encoding":{"x":{"field":"i","type":"quantitative","scale":{"domain":[-0.2,155.9],"nice":false,"zero":false,"padding":0}},"y":{"field":"v","type":"quantitative","scale":{"domain":[2004.24,2379.82],"nice":false,"zero":false}},"text":{"field":"t"}}},
{"data":{"values":[{"i":154.3,"v":2374.7,"t":"29Dec 2022 - 21Jul 2023"},{"i":154.3,"v":2366.1,"t":"(slutkurs)"}]},
 "mark":{"type":"text","align":"right","baseline":"middle","fontSize":10.5,"color":"#111111"},
 "encoding":{"x":{"field":"i","type":"quantitative","scale":{"domain":[-0.2,155.9],"nice":false,"zero":false,"padding":0}},"y":{"field":"v","type":"quantitative","scale":{"domain":[2004.24,2379.82],"nice":false,"zero":false}},"text":{"field":"t"}}}
]
},
{
"width":1182,"height":216,
"layer":[
{"data":{"values":[{"i":-0.2,"i2":155.9,"v":109.8,"v2":99.6}]},
 "mark":{"type":"rect","fill":"#ececec","strokeWidth":0},
 "encoding":{
  "x":{"field":"i","type":"quantitative","scale":{"domain":[-0.2,155.9],"nice":false,"zero":false,"padding":0},"axis":{"orient":"bottom","values":[-0.2,6.4,23,43,66,84,105,125,146],"labelExpr":"datum.value < 0 ? '139*dag' : datum.value == 23 ? 'Feb' : datum.value == 43 ? 'Mar' : datum.value == 66 ? 'Apr' : datum.value == 84 ? 'May' : datum.value == 105 ? 'Jun' : datum.value == 125 ? 'Jul' : datum.value == 146 ? 'Aug' : ''","tickSize":16,"tickColor":"#333333","domainColor":"#333333","labelAlign":"left","labelBaseline":"top","labelOffset":4,"labelPadding":-13,"labelFontSize":11,"labelColor":"#222222","labelOverlap":false,"labelFlush":false,"grid":false,"title":null}},
  "x2":{"field":"i2"},
  "y":{"field":"v","type":"quantitative","scale":{"domain":[0,109.8],"nice":false,"zero":false},"axis":{"orient":"right","values":[0,25,50,75,100],"tickSize":4,"tickColor":"#444444","domainColor":"#444444","labelPadding":1,"labelFontSize":11.5,"labelColor":"#222222","grid":false,"title":null}},
  "y2":{"field":"v2"}}},
{"data":{"values":[{"i":-0.13,"i2":155.9,"v":99.6},{"i":-0.13,"i2":155.9,"v":-8.2}]},
 "mark":{"type":"rule","color":"#9a9a9a","strokeWidth":1},
 "encoding":{"x":{"field":"i","type":"quantitative","scale":{"domain":[-0.2,155.9],"nice":false,"zero":false,"padding":0}},"x2":{"field":"i2"},"y":{"field":"v","type":"quantitative","scale":{"domain":[0,109.8],"nice":false,"zero":false}}}},
{"data":{"values":[{"i":-0.13,"i2":155.9,"v":80},{"i":-0.13,"i2":155.9,"v":20}]},
 "mark":{"type":"rule","color":"#7a7a7a","strokeWidth":1,"strokeDash":[3,3]},
 "encoding":{"x":{"field":"i","type":"quantitative","scale":{"domain":[-0.2,155.9],"nice":false,"zero":false,"padding":0}},"x2":{"field":"i2"},"y":{"field":"v","type":"quantitative","scale":{"domain":[0,109.8],"nice":false,"zero":false}}}},
{"data":{"values":[{"i":0.0,"i2":7.0,"v":29.6},{"i":10.8,"i2":28.9,"v":80},{"i":54.9,"i2":68.0,"v":42.3},{"i":67.0,"i2":83.9,"v":72.9},{"i":86.6,"i2":94.9,"v":32.4},{"i":130.8,"i2":143.8,"v":47.6}]},
 "mark":{"type":"rule","color":"#b4542a","strokeWidth":3},
 "encoding":{"x":{"field":"i","type":"quantitative","scale":{"domain":[-0.2,155.9],"nice":false,"zero":false,"padding":0}},"x2":{"field":"i2"},"y":{"field":"v","type":"quantitative","scale":{"domain":[0,109.8],"nice":false,"zero":false}}}},
{"data":{"name":"stoch"},"mark":{"type":"line","color":"#1515e8","strokeWidth":2.5,"strokeJoin":"round","clip":true},
 "encoding":{"x":{"field":"i","type":"quantitative","scale":{"domain":[-0.2,155.9],"nice":false,"zero":false,"padding":0}},"y":{"field":"v","type":"quantitative","scale":{"domain":[0,109.8],"nice":false,"zero":false}}}},
{"data":{"values":[{"i":5.7,"v":99.6,"i2":24.0,"v2":92.0},{"i":66.0,"v":98.4,"i2":73.3,"v2":95.0}]},
 "mark":{"type":"rule","color":"#ee1a1a","strokeWidth":1.8},
 "encoding":{"x":{"field":"i","type":"quantitative","scale":{"domain":[-0.2,155.9],"nice":false,"zero":false,"padding":0}},"x2":{"field":"i2"},"y":{"field":"v","type":"quantitative","scale":{"domain":[0,109.8],"nice":false,"zero":false}},"y2":{"field":"v2"}}},
{"data":{"values":[{"i":24.0,"v":92.0},{"i":73.3,"v":95.0}]},
 "mark":{"type":"point","shape":"triangle-up","angle":96,"size":90,"filled":true,"color":"#ee1a1a","opacity":1},
 "encoding":{"x":{"field":"i","type":"quantitative","scale":{"domain":[-0.2,155.9],"nice":false,"zero":false,"padding":0}},"y":{"field":"v","type":"quantitative","scale":{"domain":[0,109.8],"nice":false,"zero":false}}}},
{"data":{"values":[{"i":0.55,"v":45.7,"i2":1.36,"v2":51.9},{"i":59.6,"v":44.3,"i2":62.7,"v2":62.4},{"i":89.5,"v":35.0,"i2":92.5,"v2":53.4},{"i":141.5,"v":50.2,"i2":144.7,"v2":68.5}]},
 "mark":{"type":"rule","color":"#28e028","strokeWidth":8,"clip":true},
 "encoding":{"x":{"field":"i","type":"quantitative","scale":{"domain":[-0.2,155.9],"nice":false,"zero":false,"padding":0}},"x2":{"field":"i2"},"y":{"field":"v","type":"quantitative","scale":{"domain":[0,109.8],"nice":false,"zero":false}},"y2":{"field":"v2"}}},
{"data":{"values":[{"i":1.36,"v":51.9},{"i":62.7,"v":62.4},{"i":92.5,"v":53.4},{"i":144.7,"v":68.5}]},
 "mark":{"type":"point","shape":"triangle-up","angle":31,"size":320,"filled":true,"color":"#28e028","opacity":1,"clip":true},
 "encoding":{"x":{"field":"i","type":"quantitative","scale":{"domain":[-0.2,155.9],"nice":false,"zero":false,"padding":0}},"y":{"field":"v","type":"quantitative","scale":{"domain":[0,109.8],"nice":false,"zero":false}}}},
{"data":{"values":[{"i":14.5,"v":77.7,"i2":16.6,"v2":58.9},{"i":77.8,"v":70.1,"i2":80.0,"v2":51.3}]},
 "mark":{"type":"rule","color":"#ee1111","strokeWidth":8},
 "encoding":{"x":{"field":"i","type":"quantitative","scale":{"domain":[-0.2,155.9],"nice":false,"zero":false,"padding":0}},"x2":{"field":"i2"},"y":{"field":"v","type":"quantitative","scale":{"domain":[0,109.8],"nice":false,"zero":false}},"y2":{"field":"v2"}}},
{"data":{"values":[{"i":16.6,"v":58.9},{"i":80.0,"v":51.3}]},
 "mark":{"type":"point","shape":"triangle-up","angle":156,"size":320,"filled":true,"color":"#ee1111","opacity":1},
 "encoding":{"x":{"field":"i","type":"quantitative","scale":{"domain":[-0.2,155.9],"nice":false,"zero":false,"padding":0}},"y":{"field":"v","type":"quantitative","scale":{"domain":[0,109.8],"nice":false,"zero":false}}}},
{"data":{"values":[{"i":1.9,"v":104.3,"k":"K"},{"i":23.8,"v":104.3,"k":"D"}]},
 "mark":{"type":"point","shape":"square","size":100,"filled":true,"stroke":"#666666","strokeWidth":0.8,"opacity":1},
 "encoding":{"x":{"field":"i","type":"quantitative","scale":{"domain":[-0.2,155.9],"nice":false,"zero":false,"padding":0}},"y":{"field":"v","type":"quantitative","scale":{"domain":[0,109.8],"nice":false,"zero":false}},
  "color":{"field":"k","type":"nominal","scale":{"domain":["K","D"],"range":["#1010d8","#ffffff"]},"legend":null}}},
{"data":{"values":[{"i":3.4,"v":104.3,"t":"Stochastic Slow (14): 19,67"}]},
 "mark":{"type":"text","align":"left","baseline":"middle","fontSize":11,"color":"#111111"},
 "encoding":{"x":{"field":"i","type":"quantitative","scale":{"domain":[-0.2,155.9],"nice":false,"zero":false,"padding":0}},"y":{"field":"v","type":"quantitative","scale":{"domain":[0,109.8],"nice":false,"zero":false}},"text":{"field":"t"}}},
{"data":{"values":[{"i":25.2,"v":104.3,"t":"%D (3): 21,55"}]},
 "mark":{"type":"text","align":"left","baseline":"middle","fontSize":11,"color":"#666666"},
 "encoding":{"x":{"field":"i","type":"quantitative","scale":{"domain":[-0.2,155.9],"nice":false,"zero":false,"padding":0}},"y":{"field":"v","type":"quantitative","scale":{"domain":[0,109.8],"nice":false,"zero":false}},"text":{"field":"t"}}},
{"data":{"values":[{"i":152.5,"v":104.4},{"i":154.8,"v":104.4}]},
 "mark":{"type":"point","shape":"square","size":130,"filled":true,"color":"#dddddd","stroke":"#888888","strokeWidth":1,"opacity":1},
 "encoding":{"x":{"field":"i","type":"quantitative","scale":{"domain":[-0.2,155.9],"nice":false,"zero":false,"padding":0}},"y":{"field":"v","type":"quantitative","scale":{"domain":[0,109.8],"nice":false,"zero":false}}}},
{"data":{"values":[{"i":155.9,"i2":161.3,"v":84.8,"v2":75.7},{"i":155.9,"i2":161.3,"v":24.8,"v2":15.7}]},
 "mark":{"type":"rect","fill":"#6e6e6e","strokeWidth":0},
 "encoding":{"x":{"field":"i","type":"quantitative","scale":{"domain":[-0.2,155.9],"nice":false,"zero":false,"padding":0}},"x2":{"field":"i2"},"y":{"field":"v","type":"quantitative","scale":{"domain":[0,109.8],"nice":false,"zero":false}},"y2":{"field":"v2"}}},
{"data":{"values":[{"i":158.7,"v":80.25,"t":"80"},{"i":158.7,"v":20.25,"t":"20"}]},
 "mark":{"type":"text","align":"center","baseline":"middle","fontSize":12,"color":"#f2f2f2"},
 "encoding":{"x":{"field":"i","type":"quantitative","scale":{"domain":[-0.2,155.9],"nice":false,"zero":false,"padding":0}},"y":{"field":"v","type":"quantitative","scale":{"domain":[0,109.8],"nice":false,"zero":false}},"text":{"field":"t"}}},
{"data":{"values":[{"i":155.2,"v":-13.3,"t":"www.hittakursvinnare.se"}]},
 "mark":{"type":"text","align":"right","baseline":"middle","fontSize":10.5,"color":"#333333"},
 "encoding":{"x":{"field":"i","type":"quantitative","scale":{"domain":[-0.2,155.9],"nice":false,"zero":false,"padding":0}},"y":{"field":"v","type":"quantitative","scale":{"domain":[0,109.8],"nice":false,"zero":false}},"text":{"field":"t"}}}
]
}
]
}
